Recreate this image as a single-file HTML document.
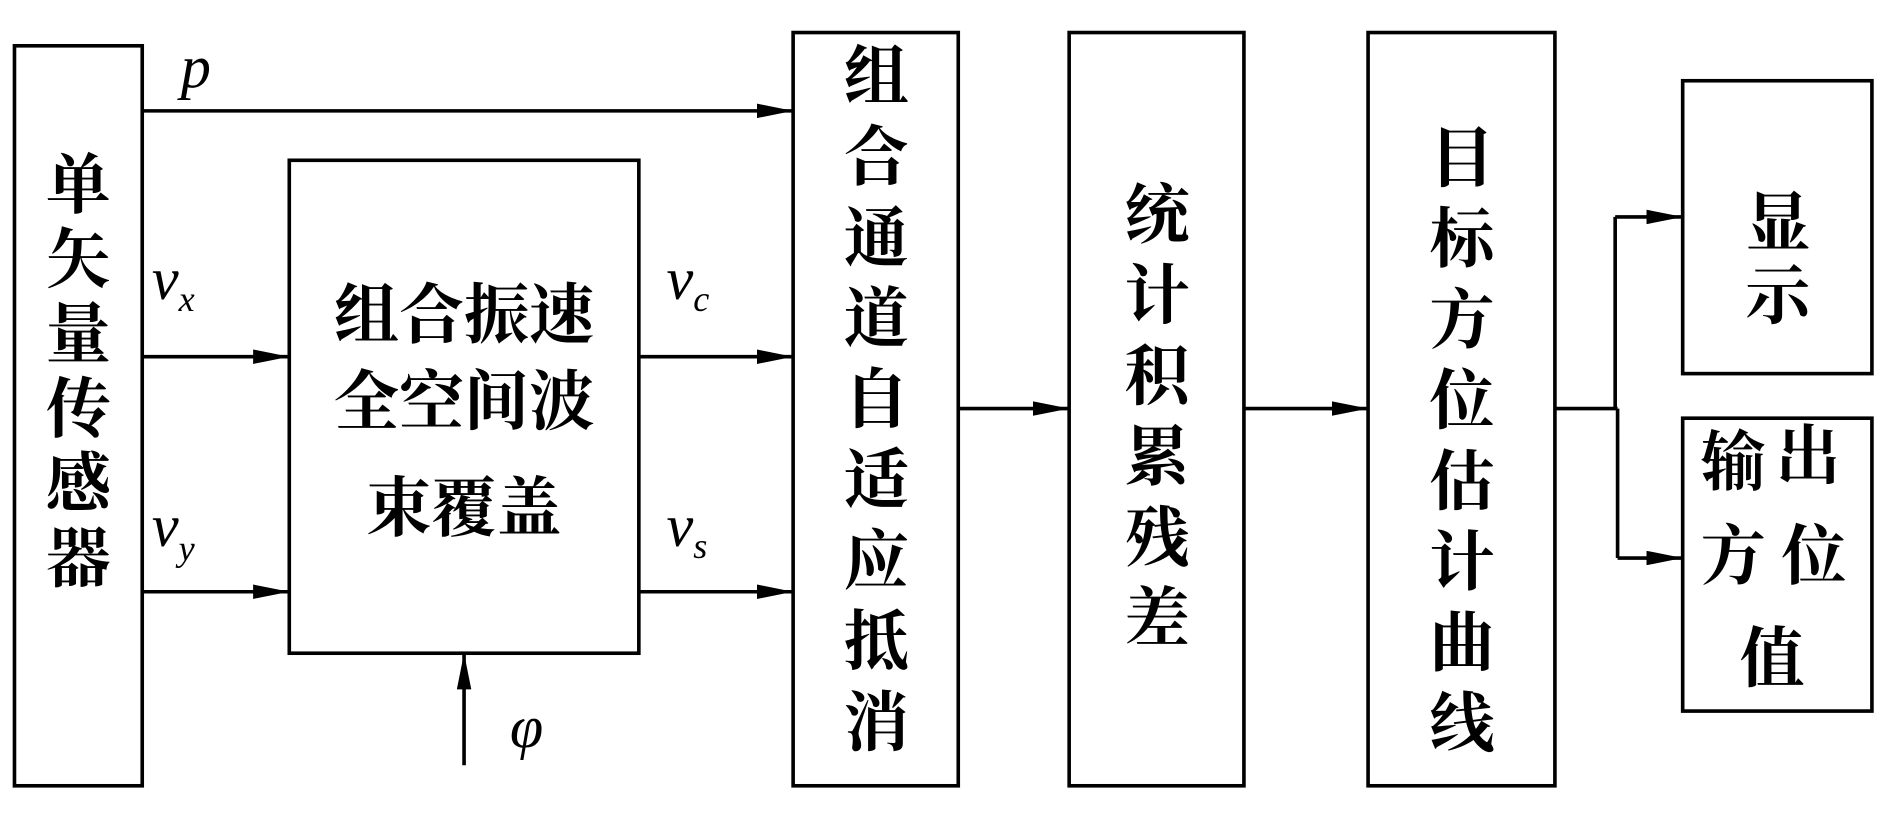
<!DOCTYPE html>
<html><head><meta charset="utf-8"><style>
html,body{margin:0;padding:0;background:#fff;}
svg{display:block;}
.c{font-family:"Liberation Serif","Noto Serif CJK SC","Noto Sans CJK SC",serif;font-size:54px;font-weight:bold;fill:#000;text-anchor:middle;}
.i{font-family:"Liberation Serif",serif;font-style:italic;font-size:50px;fill:#000;}
.s{font-size:30px;}
</style></head><body>
<svg width="1890" height="834" viewBox="0 0 1568 692" preserveAspectRatio="none" xmlns="http://www.w3.org/2000/svg">
<defs>
<marker id="b" markerWidth="30" markerHeight="12" refX="30" refY="6" orient="auto" markerUnits="userSpaceOnUse"><path d="M0,0 L30,6 L0,12z" fill="#000"/></marker></defs>
<g fill="none" stroke="#000" stroke-width="3">
<rect x="12" y="38" width="106" height="614"/>
<rect x="240" y="133" width="290" height="409"/>
<rect x="658" y="27" width="137" height="625"/>
<rect x="887" y="27" width="145" height="625"/>
<rect x="1135" y="27" width="155" height="625"/>
<rect x="1396" y="67" width="157" height="243"/>
<rect x="1396" y="347" width="157" height="243"/>
<line x1="118" y1="92" x2="658" y2="92" marker-end="url(#b)"/>
<line x1="118" y1="296" x2="240" y2="296" marker-end="url(#b)"/>
<line x1="118" y1="491" x2="240" y2="491" marker-end="url(#b)"/>
<line x1="530" y1="296" x2="658" y2="296" marker-end="url(#b)"/>
<line x1="530" y1="491" x2="658" y2="491" marker-end="url(#b)"/>
<line x1="385" y1="635" x2="385" y2="542" marker-end="url(#b)"/>
<line x1="795" y1="339" x2="887" y2="339" marker-end="url(#b)"/>
<line x1="1032" y1="339" x2="1135" y2="339" marker-end="url(#b)"/>
<line x1="1290" y1="339" x2="1342" y2="339"/>
<line x1="1340" y1="339" x2="1340" y2="180"/>
<line x1="1340" y1="180" x2="1396" y2="180" marker-end="url(#b)"/>
<line x1="1342" y1="339" x2="1342" y2="463"/>
<line x1="1342" y1="463" x2="1396" y2="463" marker-end="url(#b)"/>
</g>
<g class="c">
<text x="65" y="172">单</text><text x="65" y="234">矢</text><text x="65" y="296">量</text><text x="65" y="358">传</text><text x="65" y="420">感</text><text x="65" y="482">器</text>
<text x="385" y="280">组合振速</text><text x="385" y="352">全空间波</text><text x="385" y="440">束覆盖</text>
<text x="727" y="82">组</text><text x="727" y="149">合</text><text x="727" y="216">通</text><text x="727" y="283">道</text><text x="727" y="350">自</text><text x="727" y="417">适</text><text x="727" y="484">应</text><text x="727" y="551">抵</text><text x="727" y="618">消</text>
<text x="960" y="197">统</text><text x="960" y="264">计</text><text x="960" y="331">积</text><text x="960" y="398">累</text><text x="960" y="465">残</text><text x="960" y="532">差</text>
<text x="1213" y="150">目</text><text x="1213" y="217">标</text><text x="1213" y="284">方</text><text x="1213" y="351">位</text><text x="1213" y="418">估</text><text x="1213" y="485">计</text><text x="1213" y="552">曲</text><text x="1213" y="619">线</text>
<text x="1475" y="204">显</text><text x="1475" y="264">示</text>
<text x="1438" y="402">输</text><text x="1500" y="397">出</text><text x="1438" y="480">方</text><text x="1505" y="480">位</text><text x="1470" y="565">值</text>
</g>
<g class="i">
<text x="150" y="72">p</text>
<text x="126" y="248">v<tspan class="s" dy="10">x</tspan></text>
<text x="126" y="453">v<tspan class="s" dy="12">y</tspan></text>
<text x="553" y="248">v<tspan class="s" dy="10">c</tspan></text>
<text x="553" y="453">v<tspan class="s" dy="10">s</tspan></text>
<text x="423" y="620">φ</text>
</g>
</svg>
</body></html>
